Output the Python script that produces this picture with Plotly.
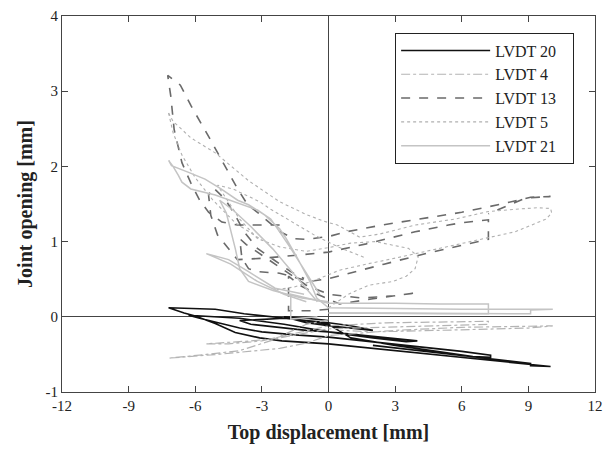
import plotly.graph_objects as go

N = None

# LVDT 20 (solid black)
lvdt20_x = [0.0, -1.0, -2.0, -1.0, 0.0, 1.0, 2.0, 1.0, 0.0,
            -2.0, -4.0, -3.5, -2.5, -1.0, 0.0, 2.0, 4.0, 3.5, 2.0, 0.0,
            -2.0, -4.0, -5.5, -6.3, -5.8, -5.0, -4.0, -3.0, -1.5, 0.0, 2.0, 4.0, 6.0, 7.3, 7.3, 6.5, 5.0, 3.0, 1.0, 0.0,
            -1.6, -3.8, -5.1, -7.2, -6.5, -6.0, -5.1, -4.2, -3.1, -2.1, 0.0, 3.0, 6.0, 9.0, 10.0, 9.1, 9.1, 7.0, 4.0, 2.0]
lvdt20_y = [-0.05, -0.02, 0.0, -0.08, -0.12, -0.15, -0.18, -0.12, -0.08,
            -0.02, -0.05, -0.10, -0.13, -0.18, -0.20, -0.26, -0.32, -0.33, -0.28, -0.20,
            -0.10, -0.02, 0.0, 0.02, -0.02, -0.08, -0.15, -0.20, -0.24, -0.27, -0.33, -0.39, -0.46, -0.51, -0.54, -0.53, -0.47, -0.38, -0.28, -0.10,
            -0.03, 0.04, 0.10, 0.12, 0.05, 0.01, -0.09, -0.21, -0.28, -0.32, -0.36, -0.45, -0.55, -0.63, -0.66, -0.65, -0.62, -0.55, -0.45, -0.38]

# LVDT 4 (dash-dot light gray)
lvdt4_x = [0.0, -1.0, -2.4, -3.5, -5.5, -4.5, -3.0, -1.5, 0.0, 2.6, 5.0, 7.2, 7.2, 5.0, 2.5, 0.0,
           -2.2, -4.0, -5.5, -7.2, -5.0, -2.2, -1.0, 0.0, 3.0, 6.0, 10.1, 9.0, 5.0, 2.0, 0.5]
lvdt4_y = [-0.04, -0.10, -0.29, -0.32, -0.36, -0.36, -0.32, -0.22, -0.12, -0.08, -0.07, -0.06, -0.10, -0.12, -0.14, -0.16,
           -0.28, -0.45, -0.50, -0.55, -0.50, -0.42, -0.35, -0.25, -0.18, -0.14, -0.12, -0.15, -0.18, -0.20, -0.18]

# LVDT 13 (dashed dark gray)
lvdt13_x = [0.0, -0.8, -1.8, -1.8, -1.3, -0.5, 0.5, 2.0, 4.0, 3.0, 1.5, 0.0,
            -1.0, -2.0, -3.0, -3.7, -4.0, -3.9, -3.6, -3.2, -2.2, -1.4, -0.85, 0.04, 0.8, 2.5, 4.5, 6.0, 7.2, 7.2,
            6.0, 5.4, 3.9, 1.7, 0.0, -1.4, -2.9, -4.1, -4.5, -5.0, -5.3, -5.4, -5.2, -4.67, -4.2, -3.8, -3.2, -2.4, -1.7, -1.1, N,
            -2.2, -4.1, -4.8, -5.4, -5.8, -6.2, -6.6, -6.95, -7.1, -7.24, -6.67, -6.18, -5.42, -4.67, -4.09, -3.64, -3.2, -2.18, -1.56, -0.98, 0.04, 0.8, 2.4, 6.0, 7.8, 9.1, 10.0, 8.9, 7.2]
lvdt13_y = [0.10, 0.08, 0.08, 0.54, 0.42, 0.30, 0.17, 0.24, 0.32, 0.28, 0.25, 0.30,
            0.42, 0.62, 0.82, 0.96, 1.04, 0.78, 0.64, 0.60, 0.58, 0.51, 0.47, 0.51, 0.57, 0.70, 0.85, 0.95, 1.03, 1.29,
            1.25, 1.22, 1.13, 0.97, 0.86, 0.82, 0.78, 0.76, 0.91, 1.09, 1.35, 1.62, 1.72, 1.57, 1.35, 1.13, 0.91, 0.74, 0.60, 0.51, N,
            1.22, 1.22, 1.26, 1.39, 1.55, 1.78, 2.05, 2.49, 2.93, 3.21, 3.08, 2.80, 2.41, 2.01, 1.70, 1.49, 1.39, 1.13, 1.04, 1.03, 1.07, 1.13, 1.22, 1.39, 1.50, 1.59, 1.60, 1.58, 1.37]

# LVDT 5 (dotted light gray)
lvdt5_x = [0.0, 0.9, 1.8, 2.9, 3.5, 3.9, 4.04, 3.6, 2.1, 1.0, 0.0, -1.0, -2.2, -3.2, -4.0, -4.7, -5.0, -4.3, -3.1, -2.6, -1.6, -0.6, 0.5, 1.7, N,
           -7.2, -7.0, -6.2, -5.1, -3.6, -2.2, -1.0, -0.2, 0.4, 0.93, 1.4, 2.3, 3.9, 5.7, 7.2, 8.4, 9.4, 10.0, 10.05, 9.8, 8.4, 7.0, 5.8, 4.4, 3.0, 1.7, 0.5, -0.5, -1.5, -2.5, N,
           -7.2, -7.0, -6.6, -6.0, -5.2, -4.2, -3.0]
lvdt5_y = [0.12, 0.30, 0.42, 0.47, 0.54, 0.64, 0.80, 0.91, 1.00, 0.98, 0.92, 0.87, 0.93, 1.04, 1.30, 1.62, 1.75, 1.70, 1.53, 1.43, 1.25, 1.08, 0.92, 0.78, N,
           2.71, 2.60, 2.38, 2.18, 1.81, 1.53, 1.36, 1.27, 1.22, 1.13, 1.06, 1.10, 1.22, 1.30, 1.40, 1.43, 1.45, 1.44, 1.38, 1.30, 1.13, 1.04, 0.96, 0.87, 0.78, 0.70, 0.62, 0.50, 0.40, 0.35, N,
           2.71, 2.45, 2.15, 1.85, 1.55, 1.25, 1.02]

# LVDT 21 (solid light gray)
lvdt21_x = [-0.5, -1.7, -1.7, -1.0, 0.0, 3.0, 5.0, 7.2, 7.2, 5.0, 2.0, 0.0, N,
            -0.4, -0.67, -1.1, -1.7, -2.2, -2.6, -3.2, -4.4, -5.1, -6.2, -6.6, -6.76, -7.0, -7.2, -7.07, -6.3, -5.56, -4.84, -4.09, -3.6, -2.9, -2.2, -1.9, -1.4, -0.84, -0.53, 0.0, 3.0, 6.0, 9.1, 10.1, 9.1, 9.1, 6.0, 3.0, 0.0, N,
            -1.1, -1.7, -2.4, -3.6, -4.5, -5.5, -4.4, -3.2, -2.0, -1.0, N,
            -0.5, -1.5, -2.5, -3.5, -4.3, -4.9, -4.6, -4.2, -4.0, -3.6, -2.5, -1.2, 0.0]
lvdt21_y = [0.0, -0.03, 0.30, 0.25, 0.18, 0.18, 0.17, 0.17, 0.04, 0.04, 0.04, 0.05, N,
            0.30, 0.43, 0.64, 0.91, 1.13, 1.30, 1.42, 1.55, 1.62, 1.70, 1.79, 1.88, 2.00, 2.08, 2.01, 1.92, 1.83, 1.70, 1.55, 1.49, 1.36, 1.17, 1.04, 0.78, 0.47, 0.25, 0.12, 0.11, 0.10, 0.10, 0.10, 0.09, 0.04, 0.05, 0.05, 0.05, N,
            0.30, 0.34, 0.38, 0.60, 0.76, 0.84, 0.70, 0.47, 0.30, 0.20, N,
            0.20, 0.55, 0.90, 1.20, 1.42, 1.55, 1.38, 0.91, 0.64, 0.47, 0.35, 0.25, 0.20]

series_names = ["LVDT 20\u00a0\u00a0\u00a0", "LVDT 4", "LVDT 13", "LVDT 5", "LVDT 21"]
x_ticks = [-12, -9, -6, -3, 0, 3, 6, 9, 12]
y_ticks = [-1, 0, 1, 2, 3, 4]

FONT = "Liberation Serif, Times New Roman, serif"

fig = go.Figure()
fig.add_trace(go.Scatter(x=lvdt20_x, y=lvdt20_y, mode="lines", name=series_names[0],
                         line=dict(color="#111111", width=1.6)))
fig.add_trace(go.Scatter(x=lvdt4_x, y=lvdt4_y, mode="lines", name=series_names[1],
                         line=dict(color="#b4b4b4", width=1.2, dash="dashdot")))
fig.add_trace(go.Scatter(x=lvdt13_x, y=lvdt13_y, mode="lines", name=series_names[2],
                         line=dict(color="#6a6a6a", width=1.6, dash="dash")))
fig.add_trace(go.Scatter(x=lvdt5_x, y=lvdt5_y, mode="lines", name=series_names[3],
                         line=dict(color="#b0b0b0", width=1.1, dash="dot")))
fig.add_trace(go.Scatter(x=lvdt21_x, y=lvdt21_y, mode="lines", name=series_names[4],
                         line=dict(color="#c4c4c4", width=1.5)))

axis_common = dict(showgrid=False, showline=True, linecolor="#444444", linewidth=1,
                   mirror="ticks", ticks="inside", ticklen=6, tickcolor="#444444",
                   zeroline=True, zerolinecolor="#444444", zerolinewidth=1.2,
                   ticklabeloverflow="allow",
                   tickfont=dict(family=FONT, size=15, color="#222222"))

fig.update_layout(
    width=611, height=450,
    margin=dict(l=62, r=8, t=12, b=58),
    plot_bgcolor="white", paper_bgcolor="white",
    font=dict(family=FONT, color="#222222"),
    hovermode=False,
    xaxis=dict(range=[-12, 12], tickvals=x_ticks, ticktext=[str(v) for v in x_ticks],
               title=dict(text="<b>Top displacement [mm]</b>", font=dict(family=FONT, size=20), standoff=11),
               **axis_common),
    yaxis=dict(range=[-1, 4], tickvals=y_ticks, ticktext=[str(v) for v in y_ticks],
               title=dict(text="<b>Joint opening [mm]</b>", font=dict(family=FONT, size=20), standoff=7),
               **axis_common),
    legend=dict(x=0.625, y=0.956, xanchor="left", yanchor="top",
                bgcolor="white", bordercolor="#222222", borderwidth=1,
                font=dict(family=FONT, size=16, color="#222222"),
                itemwidth=89, tracegroupgap=0),
    showlegend=True,
)

fig.write_html("out.html", config={"displayModeBar": False},
               post_script="document.body.style.margin='0';document.body.style.overflow='hidden';")
